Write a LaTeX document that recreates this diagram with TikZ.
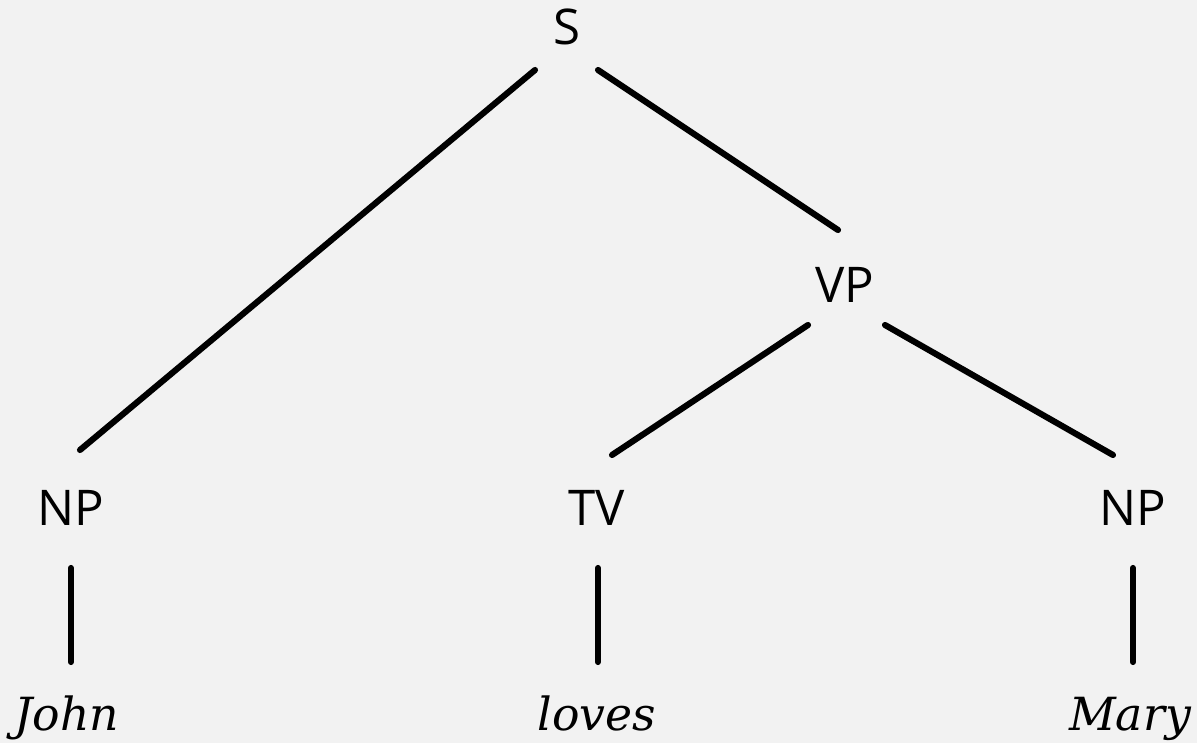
\documentclass[tikz,border=0pt]{standalone}
\usepackage{fontspec}
\setsansfont{Open Sans}
\newfontfamily\leaffont{DejaVu Serif}
\usetikzlibrary{calc}
\definecolor{bgc}{HTML}{F2F2F2}
\begin{document}
\begin{tikzpicture}[x=0.02cm, y=-0.02cm, line join=round, line cap=round,
	cat/.style={font=\sffamily\fontsize{28}{30}\selectfont, inner sep=0pt, anchor=base},
	leaf/.style={font=\leaffont\itshape\fontsize{26}{28}\selectfont, inner sep=0pt, anchor=base},
	edge/.style={line width=3.5pt}]
	%Nền.
	\fill[bgc] (0,0) rectangle (1197,743);
	%Các nút.
	\node[cat] (S) at (567,45) {S};
	\node[cat] (VP) at (845,302) {VP};
	\node[cat] (NPa) at (71,525) {NP};
	\node[cat] (TV) at (597,525) {TV};
	\node[cat] (NPb) at (1133,525) {NP};
	\node[leaf] (John) at (67,730) {John};
	\node[leaf] (loves) at (597,730) {loves};
	\node[leaf] (Mary) at (1130,730) {Mary};
	%Các cạnh.
	\draw[edge] ($(S.base)+(-32,25)$)--($(NPa.base)+(9,-75)$);
	\draw[edge] ($(S.base)+(31,25)$)--($(VP.base)+(-7,-72)$);
	\draw[edge] ($(VP.base)+(-37,23)$)--($(TV.base)+(15,-70)$);
	\draw[edge] ($(VP.base)+(40,23)$)--($(NPb.base)+(-20,-70)$);
	\draw[edge] ($(NPa.base)+(0,43)$)--($(John.base)+(4,-68)$);
	\draw[edge] ($(TV.base)+(1,43)$)--($(loves.base)+(1,-68)$);
	\draw[edge] ($(NPb.base)+(0,43)$)--($(Mary.base)+(3,-68)$);
\end{tikzpicture}
\end{document}
